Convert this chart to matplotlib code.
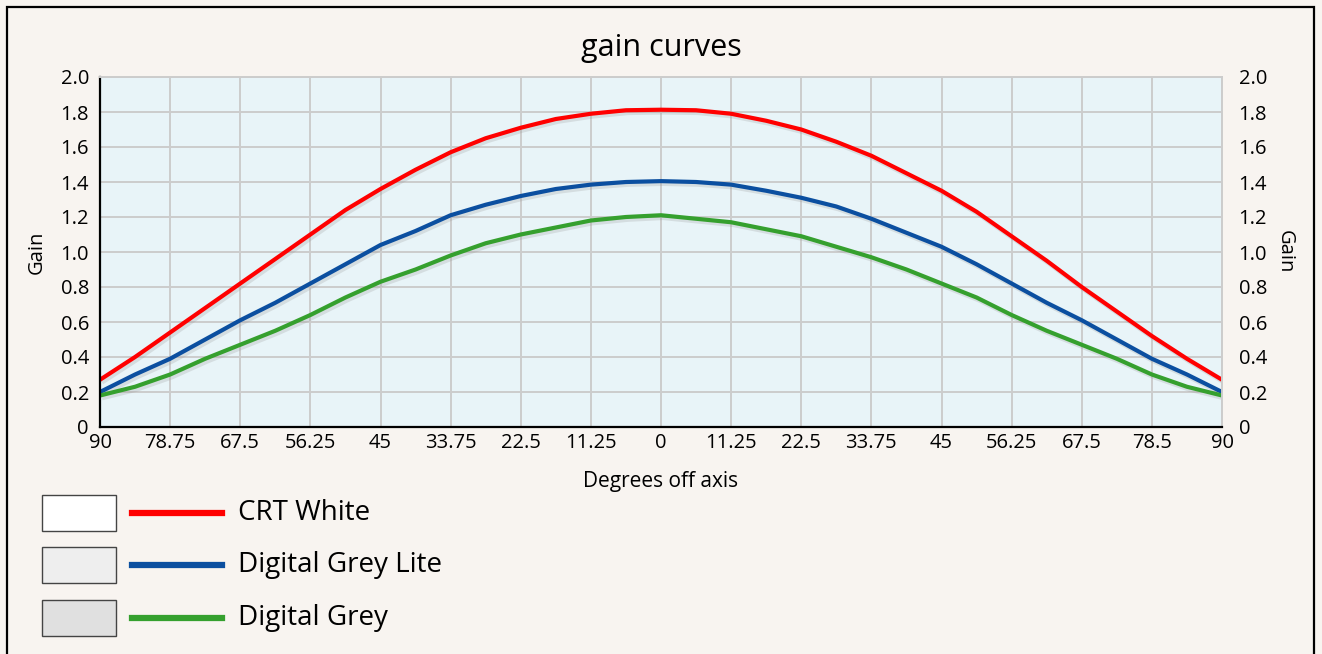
import matplotlib
matplotlib.use("Agg")
import matplotlib.pyplot as plt
import matplotlib.patheffects as pe
from matplotlib.patches import Rectangle
from matplotlib.lines import Line2D

plt.rcParams['font.family'] = ['Open Sans', 'DejaVu Sans']

# angle positions (deg, -90 .. 90 in 5.625 steps) and readings
angle = [-90, -84.375, -78.75, -73.125, -67.5, -61.875, -56.25, -50.625, -45,
         -39.375, -33.75, -28.125, -22.5, -16.875, -11.25, -5.625, 0,
         5.625, 11.25, 16.875, 22.5, 28.125, 33.75, 39.375, 45,
         50.625, 56.25, 61.875, 67.5, 73.125, 78.75, 84.375, 90]

crt_white = [0.27, 0.40, 0.54, 0.68, 0.82, 0.96, 1.10, 1.24, 1.36,
             1.47, 1.57, 1.65, 1.71, 1.76, 1.79, 1.81, 1.813,
             1.81, 1.79, 1.75, 1.70, 1.63, 1.55, 1.45, 1.35,
             1.23, 1.09, 0.95, 0.80, 0.66, 0.52, 0.39, 0.27]

grey_lite = [0.20, 0.30, 0.39, 0.50, 0.61, 0.71, 0.82, 0.93, 1.04,
             1.12, 1.21, 1.27, 1.32, 1.36, 1.385, 1.40, 1.405,
             1.40, 1.385, 1.35, 1.31, 1.26, 1.19, 1.11, 1.03,
             0.93, 0.82, 0.71, 0.61, 0.50, 0.39, 0.30, 0.20]

grey = [0.18, 0.23, 0.30, 0.39, 0.47, 0.55, 0.64, 0.74, 0.83,
        0.90, 0.98, 1.05, 1.10, 1.14, 1.18, 1.20, 1.21,
        1.19, 1.17, 1.13, 1.09, 1.03, 0.97, 0.90, 0.82,
        0.74, 0.64, 0.55, 0.47, 0.39, 0.30, 0.23, 0.18]

xticks = [-90, -78.75, -67.5, -56.25, -45, -33.75, -22.5, -11.25, 0,
          11.25, 22.5, 33.75, 45, 56.25, 67.5, 78.75, 90]
xlabels = ["90", "78.75", "67.5", "56.25", "45", "33.75", "22.5", "11.25", "0",
           "11.25", "22.5", "33.75", "45", "56.25", "67.5", "78.5", "90"]
yticks = [0, 0.2, 0.4, 0.6, 0.8, 1.0, 1.2, 1.4, 1.6, 1.8, 2.0]
ylabels = ["0", "0.2", "0.4", "0.6", "0.8", "1.0", "1.2", "1.4", "1.6", "1.8", "2.0"]

series = ["CRT White", "Digital Grey Lite", "Digital Grey"]
colors = ["#ff0000", "#0b4fa0", "#35a02e"]
swatches = ["#ffffff", "#eeeeee", "#e0e0e0"]

W, H = 1322, 654
fig = plt.figure(figsize=(W / 100, H / 100), dpi=100, facecolor="#f8f4f0")

# outer frame
fig.patches.append(Rectangle((7 / W, -0.1), (1314 - 7) / W, 1.1 - 7 / H,
                             transform=fig.transFigure, fill=False,
                             edgecolor="black", lw=1.6))

ax = fig.add_axes([100 / W, (H - 427) / H, (1222 - 100) / W, (427 - 77) / H])
ax.set_facecolor("#e8f4f8")

shadow = [pe.SimpleLineShadow(offset=(1.5, -2), shadow_color="#999999", alpha=0.25),
          pe.Normal()]
for vals, c in zip([crt_white, grey_lite, grey], colors):
    ax.plot(angle, vals, color=c, lw=3.0, solid_capstyle="butt",
            solid_joinstyle="round", path_effects=shadow)

ax.set_xlim(-90, 90)
ax.set_ylim(0, 2.0)
ax.set_xticks(xticks)
ax.set_xticklabels(xlabels)
ax.set_yticks(yticks)
ax.set_yticklabels(ylabels)
ax.grid(True, color="#cccccc", lw=1.4)
ax.set_axisbelow(True)
ax.tick_params(length=0, labelsize=14.5, pad=8)
ax.tick_params(axis="x", pad=4)
for s in ["top", "right"]:
    ax.spines[s].set_color("#cccccc")
    ax.spines[s].set_linewidth(1.4)
for s in ["left", "bottom"]:
    ax.spines[s].set_color("black")
    ax.spines[s].set_linewidth(1.6)

ax.set_title("gain curves", fontsize=22, pad=15)
ax.set_xlabel("Degrees off axis", fontsize=15, labelpad=13)
ax.set_ylabel("Gain", fontsize=14.5, labelpad=10)

ax2 = ax.twinx()
ax2.set_ylim(0, 2.0)
ax2.set_yticks(yticks)
ax2.set_yticklabels(ylabels)
ax2.tick_params(length=0, labelsize=14.5, pad=12)
for s in ax2.spines.values():
    s.set_visible(False)
ax2.set_ylabel("Gain", fontsize=14.5, rotation=270, labelpad=20)

# legend drawn below the chart
rows_y = [513, 565, 618]
for name, c, sw, y in zip(series, colors, swatches, rows_y):
    fig.patches.append(Rectangle((42 / W, (H - y - 18) / H), 74 / W, 36 / H,
                                 transform=fig.transFigure, facecolor=sw,
                                 edgecolor="#444444", lw=1.0))
    fig.lines.append(Line2D([132 / W, 222 / W], [(H - y) / H] * 2,
                            transform=fig.transFigure, color=c, lw=4.5))
    fig.text(238 / W, (H - y) / H, name, fontsize=20, va="center", ha="left")

fig.savefig("out.png", dpi=100, facecolor=fig.get_facecolor())
